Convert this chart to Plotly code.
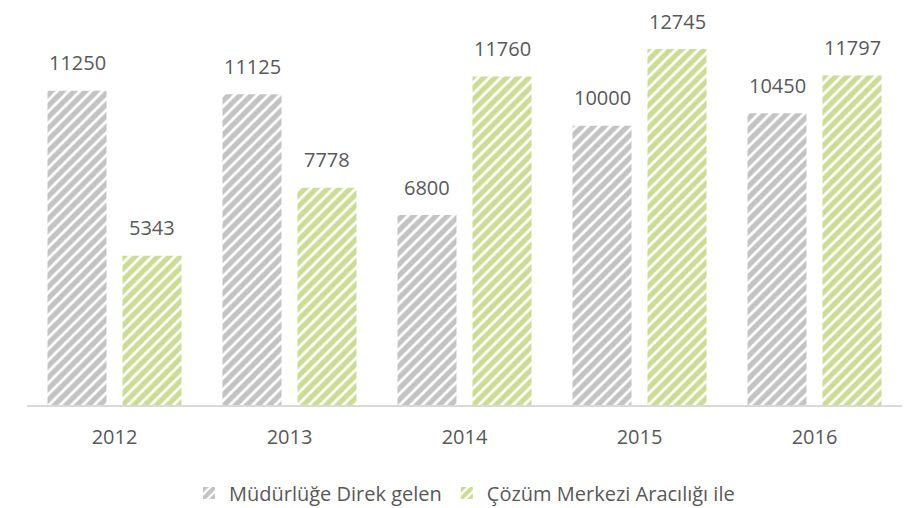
import plotly.graph_objects as go

years = ["2012", "2013", "2014", "2015", "2016"]
direk = [11250, 11125, 6800, 10000, 10450]
cozum = [5343, 7778, 11760, 12745, 11797]
series_names = ["Müdürlüğe Direk gelen", "Çözüm Merkezi Aracılığı ile"]

GRAY = "#888888"
GREEN = "#9aba26"
TXT = "#595959"
FONT = "Open Sans"
FS = 20

fig = go.Figure()
for name, vals, col in [(series_names[0], direk, GRAY), (series_names[1], cozum, GREEN)]:
    fig.add_trace(go.Bar(
        x=years, y=vals, name=name,
        marker=dict(color="white", line=dict(width=0),
                    pattern=dict(shape="/", fgcolor=col, bgcolor="white", size=8, solidity=0.65)),
    ))

# data labels (x given as category index)
for i in range(len(years)):
    for vals, shift in [(direk, -37.5), (cozum, 37.5)]:
        fig.add_annotation(x=i, y=vals[i], xref="x", yref="y", text=str(vals[i]), showarrow=False,
                           xshift=shift, yshift=28, font=dict(family=FONT, size=FS, color=TXT))

fig.update_layout(
    width=919, height=508,
    margin=dict(l=27, r=17, t=14, b=103, autoexpand=False),
    plot_bgcolor="white", paper_bgcolor="white",
    barmode="group", bargap=0.143, bargroupgap=0.213,
    font=dict(family=FONT, size=FS, color=TXT),
    showlegend=True,
    legend=dict(orientation="h", x=0.5, xanchor="center", y=-0.225, yanchor="middle",
                font=dict(family=FONT, size=FS, color=TXT), itemwidth=30),
    yaxis=dict(range=[0, 14000], visible=False, showgrid=False, automargin=False),
    xaxis=dict(type="category", range=[-0.5, len(years) - 0.5], showline=True, automargin=False,
               linecolor="#d9d9d9", linewidth=2, ticks="",
               tickfont=dict(family=FONT, size=FS, color=TXT), ticklabelstandoff=13),
)
fig.write_html("out.html", config={"displayModeBar": False},
               post_script="document.body.style.margin='0';")
